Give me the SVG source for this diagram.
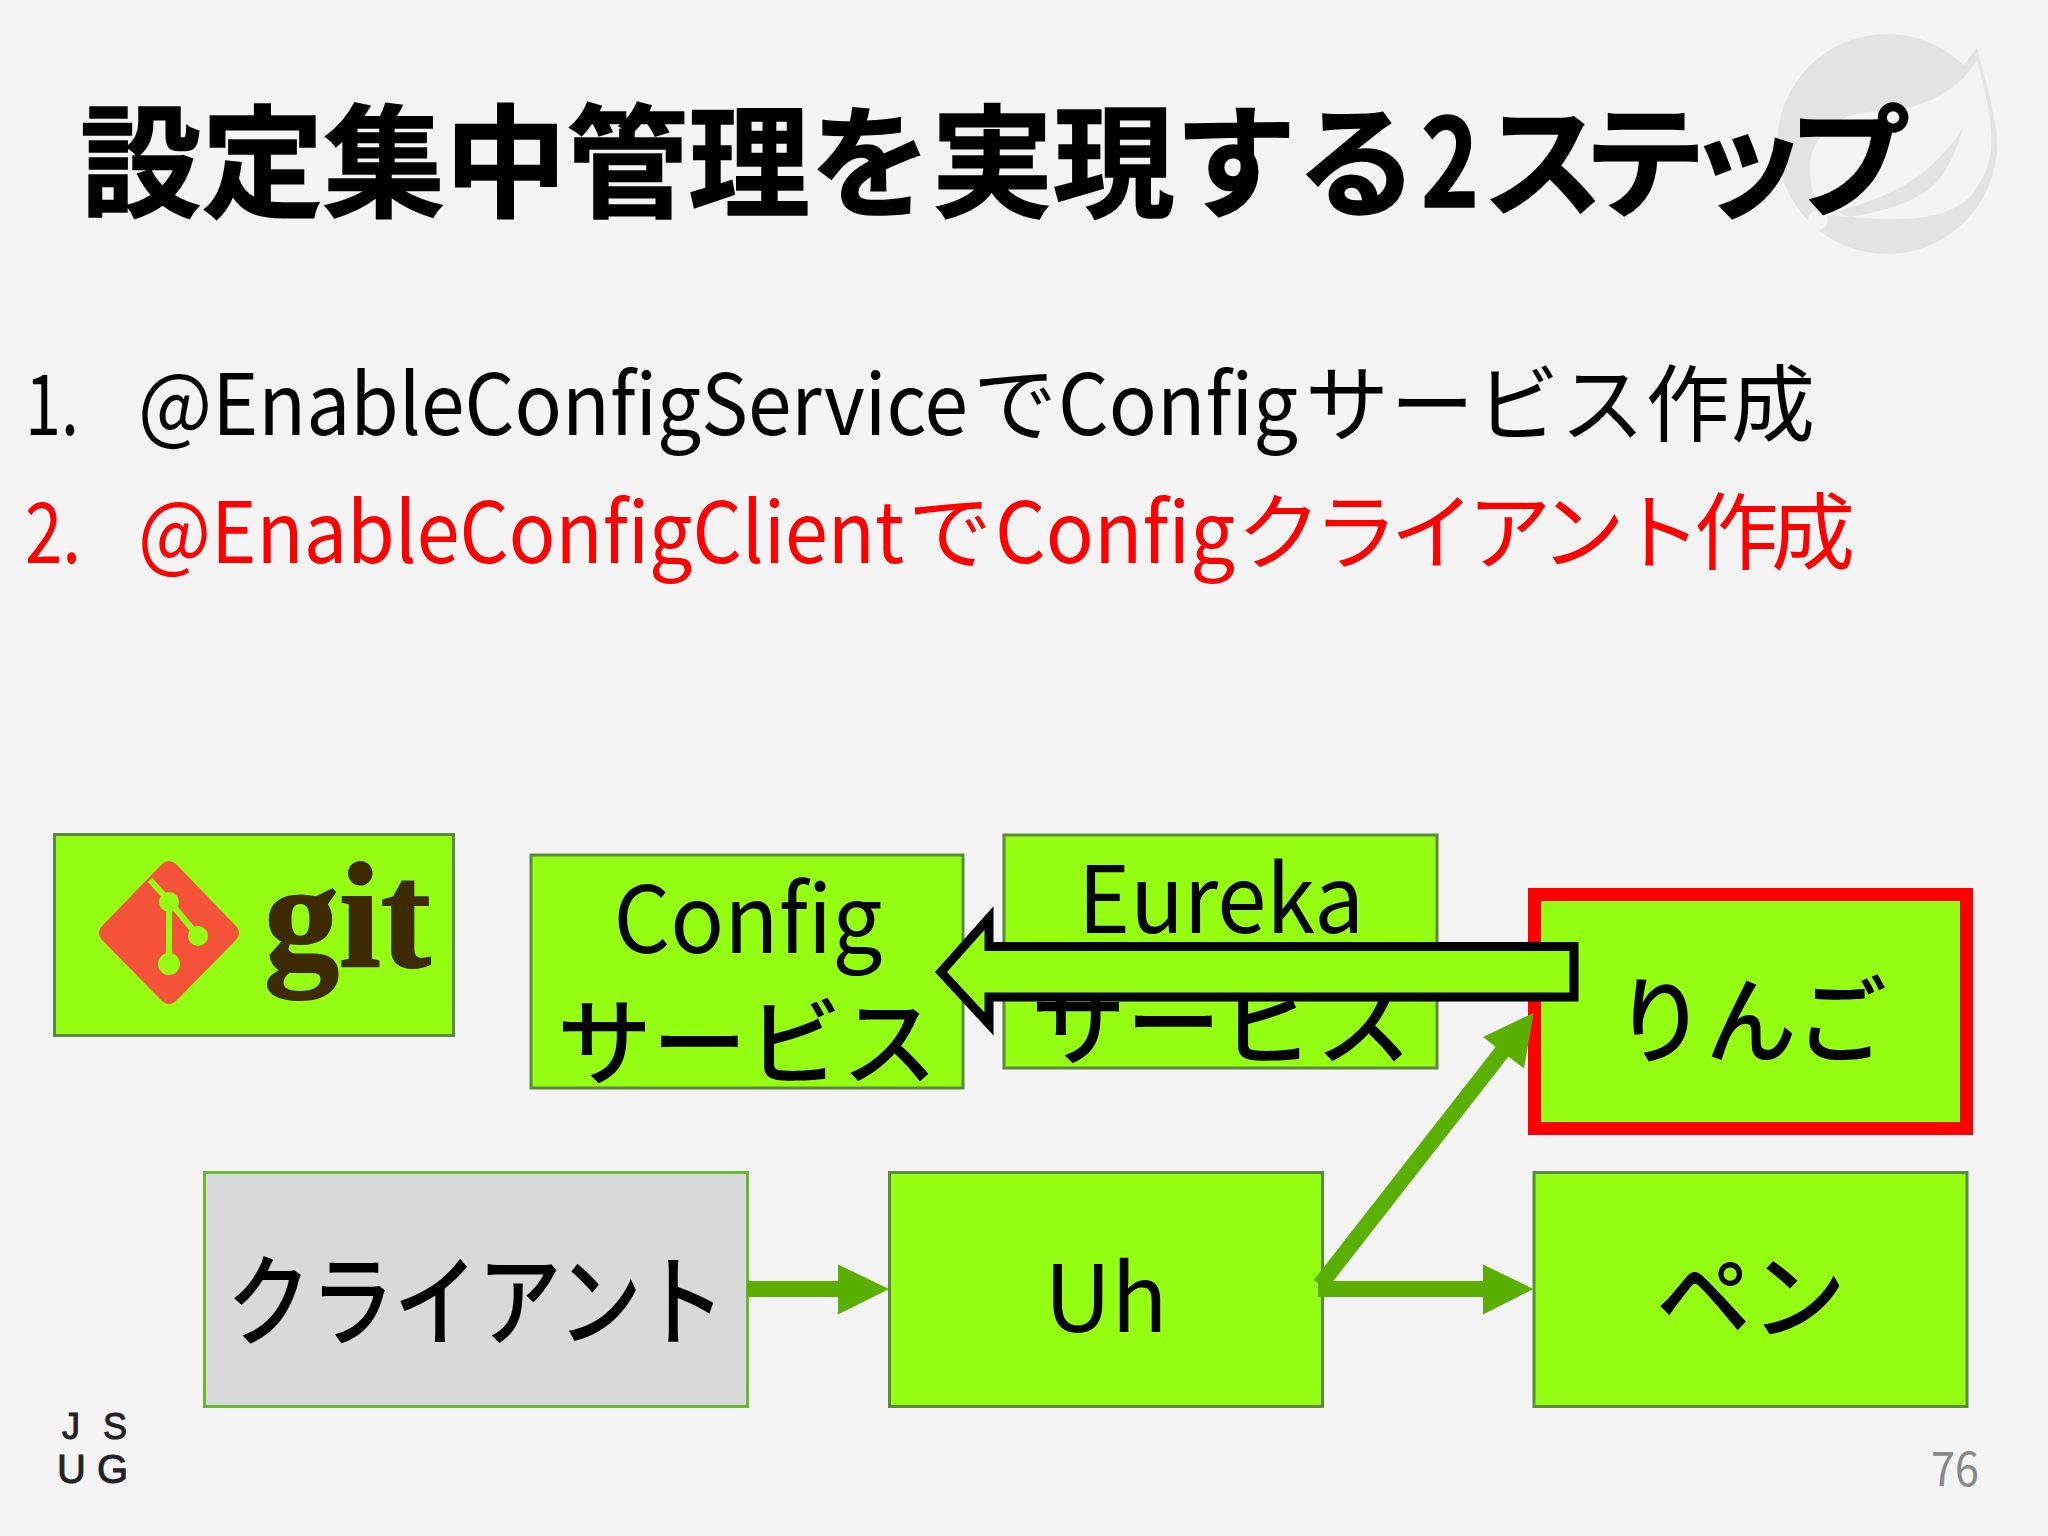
<svg xmlns="http://www.w3.org/2000/svg" width="2048" height="1536" viewBox="0 0 2048 1536">
<style>
text{font-family:"Noto Sans CJK JP","Liberation Sans",sans-serif;fill:#000}
.box{fill:#95FF13;stroke:#5A8A3C;stroke-width:3}
.n{font-size:95px;font-weight:500}
.lat{font-size:93px;font-weight:400}
.l{font-size:84px}
.red{fill:#FF0000}
.t{font-size:122px;font-weight:700;stroke:#000;stroke-width:1.500}
.j{font-family:"Liberation Sans",sans-serif;fill:#222;stroke:#222;stroke-width:1}
.conn{stroke:#59B000;stroke-width:16;fill:none}
.head{fill:#59B000}
</style>
<rect width="2048" height="1536" fill="#F4F4F4"/>
<g id="logo">
<circle cx="1887" cy="144" r="110" fill="#E3E3E3"/>
<path d="M1977 48L1988 90Q1998 130 1997 155Q1990 195 1960 225L1930 180L1960 70Z" fill="#E3E3E3"/>
<path d="M1977 60C1962 85 1940 98 1912 107C1885 112 1860 110 1845 118C1820 130 1808 150 1810 175C1811 190 1815 200 1825 215L1850 217C1880 220 1905 220 1925 217C1950 212 1965 205 1975 190C1990 170 1993 150 1991 130C1989 105 1982 80 1977 60Z" fill="#F4F4F4"/>
<path d="M1963 128C1945 155 1925 175 1895 190C1875 200 1860 205 1835 212L1850 217C1880 212 1905 205 1925 192C1945 178 1955 155 1963 128Z" fill="#E3E3E3"/>
<circle cx="1818" cy="220" r="10" fill="#F4F4F4"/>
</g>
<text id="title" class="t" y="207"><tspan x="80" textLength="1338" lengthAdjust="spacingAndGlyphs">設定集中管理を実現する</tspan><tspan x="1421" textLength="58" lengthAdjust="spacingAndGlyphs">2</tspan><tspan x="1482" textLength="428" lengthAdjust="spacing">ステップ</tspan></text>
<g id="list">
<text class="l" x="25" y="435" textLength="54" lengthAdjust="spacingAndGlyphs">1.</text>
<text class="l" y="435"><tspan x="138" textLength="830" lengthAdjust="spacingAndGlyphs">@EnableConfigService</tspan><tspan x="973" textLength="84">で</tspan><tspan x="1058" textLength="240" lengthAdjust="spacingAndGlyphs">Config</tspan><tspan x="1305" textLength="510" lengthAdjust="spacing">サービス作成</tspan></text>
<text class="l red" x="25" y="563" textLength="56" lengthAdjust="spacingAndGlyphs">2.</text>
<text class="l red" y="563"><tspan x="138" textLength="766" lengthAdjust="spacingAndGlyphs">@EnableConfigClient</tspan><tspan x="908" textLength="86">で</tspan><tspan x="995" textLength="240" lengthAdjust="spacingAndGlyphs">Config</tspan><tspan x="1237" textLength="618" lengthAdjust="spacing">クライアント作成</tspan></text>
</g>
<g id="git">
<rect class="box" x="54.500" y="834.500" width="399" height="201"/>
<path d="M161 865Q169 857 177 865L235 925Q243 933 235 941L177 1000Q169 1008 161 1000L103 941Q95 933 103 925Z" fill="#F4533A"/>
<path d="M150 880L170 902L198 936M169 900V962" stroke="#95FF13" stroke-width="6" fill="none"/>
<circle cx="169" cy="902" r="10" fill="#95FF13"/>
<circle cx="198" cy="936" r="10" fill="#95FF13"/>
<circle cx="169" cy="964" r="11" fill="#95FF13"/>
<text x="264" y="967" font-size="150" font-weight="700" style="font-family:'Liberation Serif',serif;fill:#3E2A00;stroke:#3E2A00;stroke-width:2">git</text>
</g>
<g id="config">
<rect class="box" x="531" y="855" width="432" height="233"/>
<text class="lat" x="748" y="953" text-anchor="middle" textLength="269" lengthAdjust="spacingAndGlyphs">Config</text>
<text class="n" x="747" y="1078" text-anchor="middle">サービス</text>
</g>
<g id="eureka">
<rect class="box" x="1004" y="835" width="433" height="233"/>
<text class="lat" x="1221" y="933" text-anchor="middle" textLength="286" lengthAdjust="spacingAndGlyphs">Eureka</text>
<text class="n" x="1221" y="1058" text-anchor="middle">サービス</text>
</g>
<g id="ringo">
<rect x="1534.500" y="894.500" width="432" height="234" fill="#95FF13" stroke="#FF0000" stroke-width="13"/>
<text class="n" x="1751" y="1056" text-anchor="middle" textLength="272" lengthAdjust="spacingAndGlyphs">りんご</text>
</g>
<g id="client">
<rect x="204.500" y="1172.500" width="543" height="234" fill="#D9D9D9" stroke="#66BB33" stroke-width="3"/>
<text class="n" x="476" y="1338" text-anchor="middle" textLength="498" lengthAdjust="spacingAndGlyphs" style="font-size:100px">クライアント</text>
</g>
<g id="uh">
<rect class="box" x="889.500" y="1172.500" width="433" height="234"/>
<text class="lat" x="1106" y="1332" text-anchor="middle">Uh</text>
</g>
<g id="pen">
<rect class="box" x="1534" y="1172.500" width="433" height="234"/>
<text class="n" x="1751" y="1332" text-anchor="middle">ペン</text>
</g>
<g id="connectors">
<path class="conn" d="M747 1289H840"/>
<path class="head" d="M889 1289L838 1264.500V1314.500Z"/>
<path class="conn" d="M1318 1289H1485"/>
<path class="head" d="M1533.500 1289L1483 1264.500V1314.500Z"/>
<path class="conn" d="M1320 1285L1505 1048"/>
<path class="head" d="M1533.500 1013L1483 1037L1524 1068.500Z"/>
<path id="block-arrow" d="M1574 946.500H989V918L941 972L989 1024V997H1574Z" fill="#95FF13" stroke="#000" stroke-width="9"/>
</g>
<g id="footer">
<text class="j" x="62" y="1439" font-size="36">J</text>
<text class="j" x="103" y="1439" font-size="36">S</text>
<text class="j" x="57" y="1483" font-size="40">U</text>
<text class="j" x="97" y="1483" font-size="40">G</text>
<text x="1931" y="1486" font-size="47" textLength="48" lengthAdjust="spacingAndGlyphs" style="fill:#888888">76</text>
</g>
</svg>
